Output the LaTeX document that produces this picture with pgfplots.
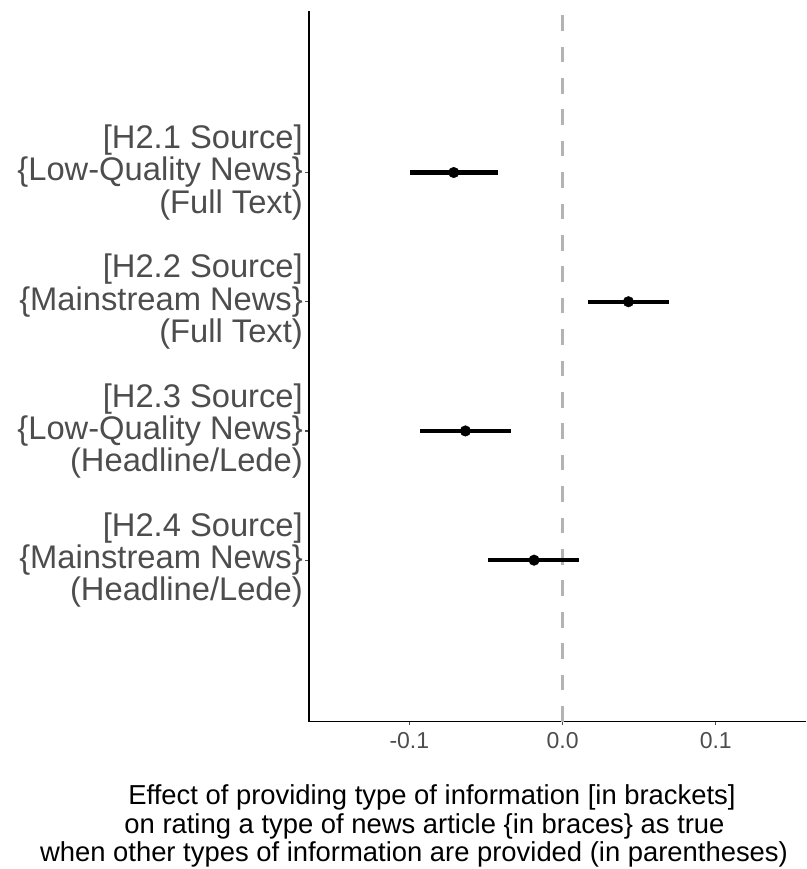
\documentclass[border=0pt]{standalone}
\usepackage{fontspec}
\setmainfont{Liberation Sans}
\usepackage{pgfplots}
\usepackage{pgfplotstable}
\pgfplotsset{compat=1.18}
\definecolor{gray30}{HTML}{4D4D4D}
\definecolor{gray70}{HTML}{B3B3B3}

% est: point estimate, pos: row position, lo/hi: interval ends
\pgfplotstableread{
pos est lo hi
4 -0.0710 -0.0995 -0.0419
3 0.0430 0.0168 0.0695
2 -0.0634 -0.0930 -0.0336
1 -0.0186 -0.0484 0.0110
}\datatable
\pgfplotstablecreatecol[create col/expr={\thisrow{hi}-\thisrow{est}}]{ep}{\datatable}
\pgfplotstablecreatecol[create col/expr={\thisrow{est}-\thisrow{lo}}]{em}{\datatable}

\begin{document}
\begin{tikzpicture}
\path[use as bounding box] (-309pt,-147.3pt) rectangle (497pt,721.7pt);
\begin{axis}[
  at={(0pt,0pt)}, anchor=south west,
  scale only axis,
  width=497pt, height=710.7pt,
  xmin=-0.1655, xmax=0.1589,
  ymin=-0.25, ymax=5.25,
  axis lines=left,
  axis line style={black, line width=1.1pt, -},
  tick align=outside,
  major tick length=3.5pt,
  tick style={gray30, line width=1.1pt},
  xtick={-0.1,0,0.1},
  xticklabels={-0.1,0.0,0.1},
  ytick={1,2,3,4},
  yticklabels={
    {[H2.4 Source]\\\{Mainstream News\}\\(Headline/Lede)},
    {[H2.3 Source]\\\{Low-Quality News\}\\(Headline/Lede)},
    {[H2.2 Source]\\\{Mainstream News\}\\(Full Text)},
    {[H2.1 Source]\\\{Low-Quality News\}\\(Full Text)}
  },
  yticklabel style={align=right, inner sep=0pt, text=gray30,
    font=\fontsize{32.7}{32.3}\selectfont, xshift=-2.5pt},
  xticklabel style={inner sep=0pt, text=gray30,
    font=\fontsize{23}{25}\selectfont, yshift=-7pt},
  xlabel={\hspace*{36pt}Effect of providing type of information [in brackets]\\\hspace*{21pt}on rating a type of news article \{in braces\} as true\\when other types of information are provided (in parentheses)},
  xlabel style={at={(axis description cs:0.2113,0)}, anchor=north,
    align=center, inner sep=0pt, yshift=-63pt,
    font=\fontsize{27.4}{28.5}\selectfont, text=black},
  clip=false,
]
\addplot[gray70, line width=3.7pt, dash pattern=on 15.7pt off 15.7pt]
  coordinates {(0,-0.25) (0,5.25)};
\addplot[draw=none, mark=none,
  error bars/.cd, x dir=both, x explicit,
  error mark=none,
  error bar style={black, line width=4.3pt}]
  table[x=est, y=pos, x error plus=ep, x error minus=em] {\datatable};
\addplot[only marks, mark=*, mark size=5.3pt, black]
  table[x=est, y=pos] {\datatable};
\end{axis}
\end{tikzpicture}
\end{document}
